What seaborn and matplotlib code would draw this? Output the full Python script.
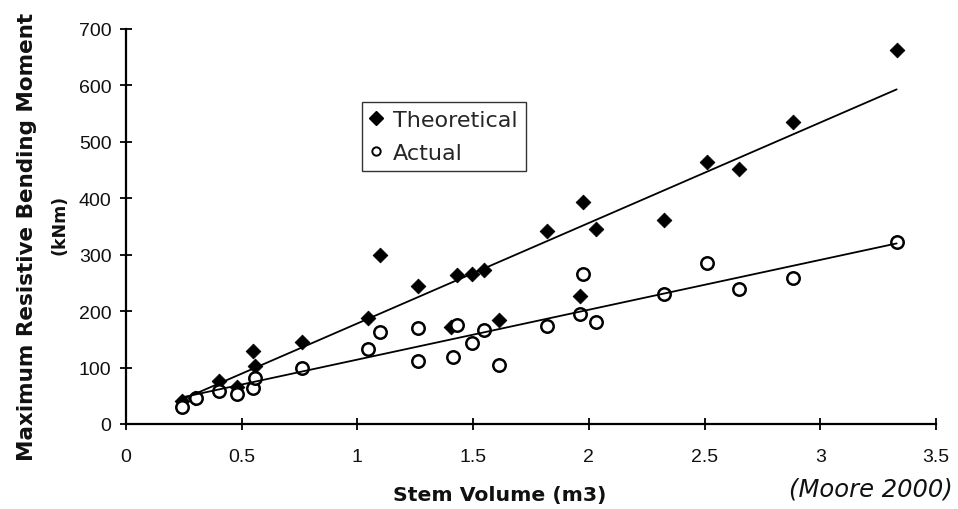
import matplotlib
matplotlib.use("Agg")
import matplotlib.pyplot as plt
from matplotlib.lines import Line2D
import seaborn as sns
import pandas as pd

# ---- data ----
theo_x = [0.241, 0.300, 0.403, 0.480, 0.550, 0.557, 0.759, 1.047, 1.098, 1.261,
          1.405, 1.429, 1.494, 1.548, 1.613, 1.818, 1.962, 1.974, 2.031, 2.325,
          2.512, 2.650, 2.884, 3.331]
theo_y = [41, 46, 76, 66, 130, 103, 145, 187, 300, 245,
          172, 264, 266, 273, 185, 342, 226, 393, 346, 362,
          465, 452, 535, 662]

act_x = [0.241, 0.303, 0.403, 0.481, 0.548, 0.557, 0.759, 1.045, 1.098, 1.261,
         1.261, 1.414, 1.429, 1.494, 1.548, 1.613, 1.818, 1.962, 1.974, 2.031,
         2.325, 2.512, 2.650, 2.884, 3.331]
act_y = [30, 46, 59, 53, 63, 81, 100, 133, 163, 170,
         112, 118, 175, 144, 167, 105, 174, 195, 266, 180,
         230, 285, 240, 259, 323]

trend_x = [0.24, 3.33]
theo_trend = [43, 593]
act_trend = [47, 320]

x_ticks = [0, 0.5, 1, 1.5, 2, 2.5, 3, 3.5]
x_tick_labels = ["0", "0.5", "1", "1.5", "2", "2.5", "3", "3.5"]
y_ticks = [0, 100, 200, 300, 400, 500, 600, 700]

theo_df = pd.DataFrame({"x": theo_x, "y": theo_y})
act_df = pd.DataFrame({"x": act_x, "y": act_y})
theo_line = pd.DataFrame({"x": trend_x, "y": theo_trend})
act_line = pd.DataFrame({"x": trend_x, "y": act_trend})

sns.set_theme(style="white")
plt.rcParams["font.family"] = ["DejaVu Sans"]

W, H = 958, 510
fig = plt.figure(figsize=(W / 100, H / 100), dpi=100)
ax = fig.add_axes([126 / W, 85 / H, (936 - 126) / W, (425 - 30) / H])

sns.scatterplot(data=theo_df, x="x", y="y", ax=ax, marker="D", s=56,
                color="black", edgecolor="black", linewidth=0.6, zorder=3)
sns.scatterplot(data=act_df, x="x", y="y", ax=ax, marker="o", s=80,
                facecolor="white", edgecolor="black", linewidth=1.8, zorder=4)
sns.lineplot(data=theo_line, x="x", y="y", ax=ax, color="black", lw=1.3, zorder=5)
sns.lineplot(data=act_line, x="x", y="y", ax=ax, color="black", lw=1.3, zorder=5)

ax.set_xlim(0, 3.5)
ax.set_ylim(0, 700)
ax.set_xticks(x_ticks)
ax.set_xticklabels(x_tick_labels)
ax.set_yticks(y_ticks)
ax.set_xlabel("")
ax.set_ylabel("")

for side in ["top", "right"]:
    ax.spines[side].set_visible(False)
for side in ["left", "bottom"]:
    ax.spines[side].set_color("black")
    ax.spines[side].set_linewidth(1.6)

ax.tick_params(axis="both", which="major", direction="inout", length=9,
               width=1.3, color="black", labelsize=14, labelcolor="#111111",
               bottom=True, left=True)
ax.tick_params(axis="x", pad=13)
ax.tick_params(axis="y", pad=6)
for lab in ax.get_xticklabels() + ax.get_yticklabels():
    lab.set_fontfamily(["Liberation Sans", "DejaVu Sans"])
ax.grid(False)

# legend
handles = [
    Line2D([], [], linestyle="none", marker="D", markersize=7.5,
           markerfacecolor="black", markeredgecolor="black"),
    Line2D([], [], linestyle="none", marker="o", markersize=6,
           markerfacecolor="white", markeredgecolor="black", markeredgewidth=1.4),
]
leg = ax.legend(handles, ["Theoretical", "Actual"], loc="upper left",
                bbox_to_anchor=(362 / W, 1 - 103 / H), bbox_transform=fig.transFigure,
                borderaxespad=0, fontsize=16, frameon=True, fancybox=False,
                framealpha=1, edgecolor="#333333", borderpad=0.35,
                labelspacing=0.6, handlelength=0.55, handletextpad=0.5)
leg.get_frame().set_linewidth(1.0)

# axis titles
fig.text(500 / W, 1 - 496 / H, "Stem Volume (m3)", ha="center", va="center",
         fontsize=14.7, fontweight="bold", color="#111111")
fig.text(27 / W, 1 - 237 / H, "Maximum Resistive Bending Moment", rotation=90,
         ha="center", va="center", fontsize=15.5, fontweight="bold", color="#111111")
fig.text(60 / W, 1 - 225 / H, "(kNm)", rotation=90, ha="center", va="center",
         fontsize=12.5, fontweight="bold", color="#111111")
fig.text(953 / W, 1 - 490 / H, "(Moore 2000)", ha="right", va="center",
         fontsize=17.5, style="italic", color="#111111")

fig.savefig("out.png", dpi=100)
